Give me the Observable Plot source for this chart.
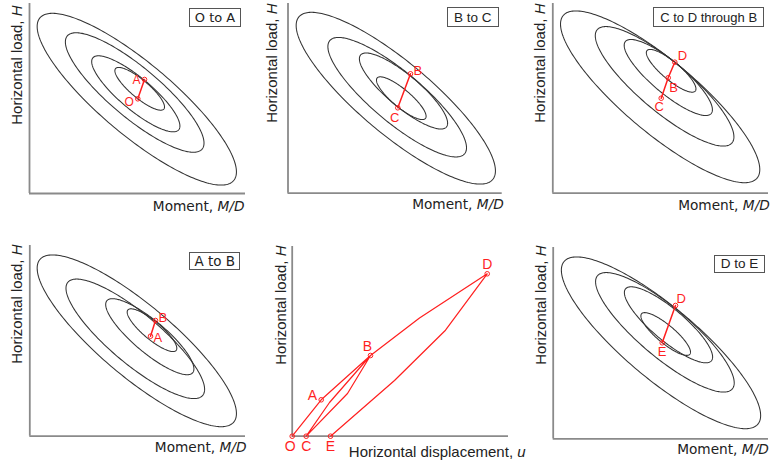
<!DOCTYPE html>
<html><head><meta charset="utf-8">
<script src="https://cdn.jsdelivr.net/npm/d3@7"></script>
<script src="https://cdn.jsdelivr.net/npm/@observablehq/plot@0.6"></script>
<style>
html,body{margin:0;padding:0;background:#fff;}
#fig{position:relative;width:772px;height:465px;overflow:hidden;background:#fff;}
.tag{position:absolute;border:1px solid #555;background:#fff;color:#222;box-sizing:border-box;white-space:nowrap;display:flex;align-items:center;justify-content:center;}
</style></head><body><div id="fig"></div>
<script>
// ---------- data ----------
const tilt = 40;                    // major axis angle below horizontal (deg)
const aspect = 0.285;               // minor / major semi-axis
const surfaceSizes = [126.5, 88, 56, 31.5];   // semi-major axes of the 4 yield surfaces

const centersOA = [[107.3, 94.3], [105.2, 101], [106.3, 99.7], [110.2, 104.7]];
const centersBC = [[107.8, 95], [109.2, 96], [115.5, 102.2], [113.3, 95]];
const centersCD = [[107.35, 96.4], [111.8, 106.9], [115.5, 115.7], [118.35, 122.4]];
const centersAB = [[107, 95.4], [105.5, 97.4], [120, 99.5], [122.2, 106]];
const centersDE = [[107.8, 96], [111.7, 106.5], [115.3, 114], [112.5, 104.8]];

const pathOA = [{name: "O", x: 108.3, y: 94.7}, {name: "A", x: 115, y: 114}];
const pathBC = [{name: "B", x: 122.5, y: 119.4}, {name: "C", x: 109.8, y: 85.4}];
const pathCD = [{name: "C", x: 108.4, y: 95}, {name: "B", x: 115.4, y: 115.4}, {name: "D", x: 122, y: 131}];
const pathAB = [{name: "A", x: 120.7, y: 100}, {name: "B", x: 125.7, y: 115.7}];
const pathDE = [{name: "D", x: 122.3, y: 133.3}, {name: "E", x: 109, y: 96}];

// load–displacement response (u, H)
const responsePath = [
  {name: "O", x: 0, y: 0}, {name: "A", x: 29, y: 36.4}, {name: "B", x: 78.3, y: 80.7},
  {name: "", x: 37.3, y: 33.7}, {name: "C", x: 14, y: 0}, {name: "", x: 55.3, y: 42.7},
  {name: "B", x: 78.3, y: 80.7}, {name: "", x: 127.3, y: 118.2}, {name: "D", x: 195, y: 162.4},
  {name: "", x: 153.3, y: 106}, {name: "", x: 102.3, y: 55.7}, {name: "E", x: 38.3, y: 0}
];

const tagTexts = ["O to A", "B to C", "C to D through B", "A to B", "", "D to E"];
const yLabelText = "Horizontal load, H";
const xLabelText = "Moment, M/D";
const uLabelText = "Horizontal displacement, u";

// ---------- layout / style ----------
const RED = "#ff1f1f";
const ARIAL = "Liberation Sans, Arial, sans-serif";
const DEJAVU = "DejaVu Sans, Verdana, sans-serif";

// label placement for point names: [textAnchor, dx, dy]
const labelPos = {
  OA: {O: ["end", -4, 3], A: ["end", -4, 1]},
  BC: {B: ["start", 3, -3], C: ["middle", -3, 10]},
  CD: {D: ["start", 3, -6], B: ["start", 1, 10], C: ["middle", -2, 9]},
  AB: {B: ["start", 3, -3], A: ["start", 3, 2]},
  DE: {D: ["start", 1, -7], E: ["middle", 0, 9]},
  UH: {O: ["middle", -2, 10], C: ["middle", 0, 10], E: ["middle", 0, 10], A: ["end", -4, -4], B: ["middle", -3, -9], D: ["middle", 0, -9]}
};

// yl: [baseline dx, dy] of rotated y label; xl: [dx, baseline dy] of x label
const panels = [
  {id: "OA", cell: [0, 0, 255, 230], origin: [29, 193], xEnd: 245, yTop: 3, centers: centersOA, path: pathOA, tag: 0,
   tagBox: [189, 8, 52, 19], tagFont: DEJAVU, tagSize: 13, yl: [-8, 2], xl: [-1, 17], ptSize: 12},
  {id: "BC", cell: [255, 0, 255, 230], origin: [287.5, 192.7], xEnd: 501.7, yTop: 3, centers: centersBC, path: pathBC, tag: 1,
   tagBox: [447, 7, 51.5, 20], tagFont: ARIAL, tagSize: 13.5, yl: [-10.8, 0], xl: [1.6, 15.8], ptSize: 13},
  {id: "CD", cell: [510, 0, 262, 230], origin: [552.3, 192.7], xEnd: 768, yTop: 3, centers: centersCD, path: pathCD, tag: 2,
   tagBox: [653.3, 7, 110.7, 20], tagFont: ARIAL, tagSize: 13, yl: [-8.3, 0], xl: [1.3, 16.3], ptSize: 13},
  {id: "AB", cell: [0, 230, 255, 235], origin: [29.3, 435.7], xEnd: 245, yTop: 245, centers: centersAB, path: pathAB, tag: 3,
   tagBox: [189.3, 251.7, 51, 18.5], tagFont: DEJAVU, tagSize: 13.5, yl: [-7.6, -1], xl: [1, 16], ptSize: 13},
  {id: "DE", cell: [510, 230, 262, 235], origin: [552.7, 438.3], xEnd: 768, yTop: 247, centers: centersDE, path: pathDE, tag: 5,
   tagBox: [714, 255, 51, 17.5], tagFont: ARIAL, tagSize: 13.5, yl: [-7.7, -2], xl: [0.3, 15], ptSize: 13},
  {id: "UH", cell: [255, 230, 255, 235], origin: [291.7, 435.7], xEnd: 508, yTop: 246, response: responsePath,
   yl: [-6.7, -1], ptSize: 14}
];

function ellipsePoints(c, a, k) {
  const th = tilt * Math.PI / 180, b = a * aspect;
  const ux = Math.cos(th), uy = -Math.sin(th), vx = Math.sin(th), vy = Math.cos(th);
  return d3.range(0, 241).map(i => {
    const t = i / 240 * 2 * Math.PI;
    return {k, x: c[0] + a * Math.cos(t) * ux + b * Math.sin(t) * vx, y: c[1] + a * Math.cos(t) * uy + b * Math.sin(t) * vy};
  });
}

function italicTail(svg, full, tail) {
  svg.querySelectorAll("text").forEach(el => {
    if (el.textContent === full) {
      el.textContent = full.slice(0, full.length - tail.length);
      const ts = document.createElementNS("http://www.w3.org/2000/svg", "tspan");
      ts.setAttribute("font-style", "italic");
      ts.textContent = tail;
      el.appendChild(ts);
    }
  });
}

const fig = document.getElementById("fig");

for (const p of panels) {
  const [left, top, w, h] = p.cell;
  const [ox, oy] = p.origin;
  const W = p.xEnd - ox, H = oy - p.yTop;
  const marks = [];
  marks.push(Plot.ruleY([0], {x1: 0, x2: W, stroke: "#8a8a8a", strokeWidth: 1.8}));
  marks.push(Plot.ruleX([0], {y1: 0, y2: H, stroke: "#8a8a8a", strokeWidth: 1.8}));
  let pts;
  if (p.centers) {
    const ell = p.centers.flatMap((c, i) => ellipsePoints(c, surfaceSizes[i], i));
    marks.push(Plot.line(ell, {x: "x", y: "y", z: "k", stroke: "#333", strokeWidth: 1.05}));
    marks.push(Plot.line(p.path, {x: "x", y: "y", stroke: RED, strokeWidth: 1.5}));
    pts = p.path;
    marks.push(Plot.text([xLabelText], {frameAnchor: "bottom-right", lineAnchor: "bottom", text: d => d, textAnchor: "end",
      dx: p.xl[0], dy: p.xl[1], fontSize: 13.7, fontFamily: DEJAVU, fill: "#222"}));
  } else {
    marks.push(Plot.line(p.response, {x: "x", y: "y", stroke: RED, strokeWidth: 1.2}));
    pts = p.response.filter((d, i, arr) => d.name && arr.findIndex(e => e.name === d.name) === i);
    marks.push(Plot.text([uLabelText], {frameAnchor: "bottom-left", lineAnchor: "bottom", text: d => d, textAnchor: "start",
      dx: 56.6, dy: 21, fontSize: 15, fontFamily: ARIAL, fill: "#222"}));
  }
  marks.push(Plot.dot(pts, {x: "x", y: "y", r: 2.3, stroke: RED, strokeWidth: 1, fill: "none"}));
  for (const d of pts) {
    const [anchor, dx, dy] = labelPos[p.id][d.name];
    marks.push(Plot.text([d], {x: "x", y: "y", text: "name", textAnchor: anchor, lineAnchor: "middle", dx, dy,
      fontSize: p.ptSize, fontFamily: ARIAL, fill: RED}));
  }
  marks.push(Plot.text([yLabelText], {frameAnchor: "top-left", lineAnchor: "bottom", text: d => d, rotate: -90, textAnchor: "end",
    dx: p.yl[0], dy: p.yl[1], fontSize: 15, fontFamily: ARIAL, fill: "#222"}));

  const svg = Plot.plot({
    width: w, height: h,
    marginLeft: ox - left, marginRight: left + w - p.xEnd,
    marginTop: p.yTop - top, marginBottom: top + h - oy,
    x: {domain: [0, W], axis: null},
    y: {domain: [0, H], axis: null},
    style: {position: "absolute", left: left + "px", top: top + "px", overflow: "visible", background: "transparent", maxWidth: "none"},
    marks
  });
  italicTail(svg, yLabelText, "H");
  italicTail(svg, xLabelText, "M/D");
  italicTail(svg, uLabelText, "u");
  fig.appendChild(svg);

  if (p.tagBox) {
    const [tx, ty, tw, th] = p.tagBox;
    const div = document.createElement("div");
    div.className = "tag";
    div.style.left = tx + "px"; div.style.top = ty + "px";
    div.style.width = tw + "px"; div.style.height = th + "px";
    div.style.fontFamily = p.tagFont; div.style.fontSize = p.tagSize + "px";
    div.textContent = tagTexts[p.tag];
    fig.appendChild(div);
  }
}
</script></body></html>
